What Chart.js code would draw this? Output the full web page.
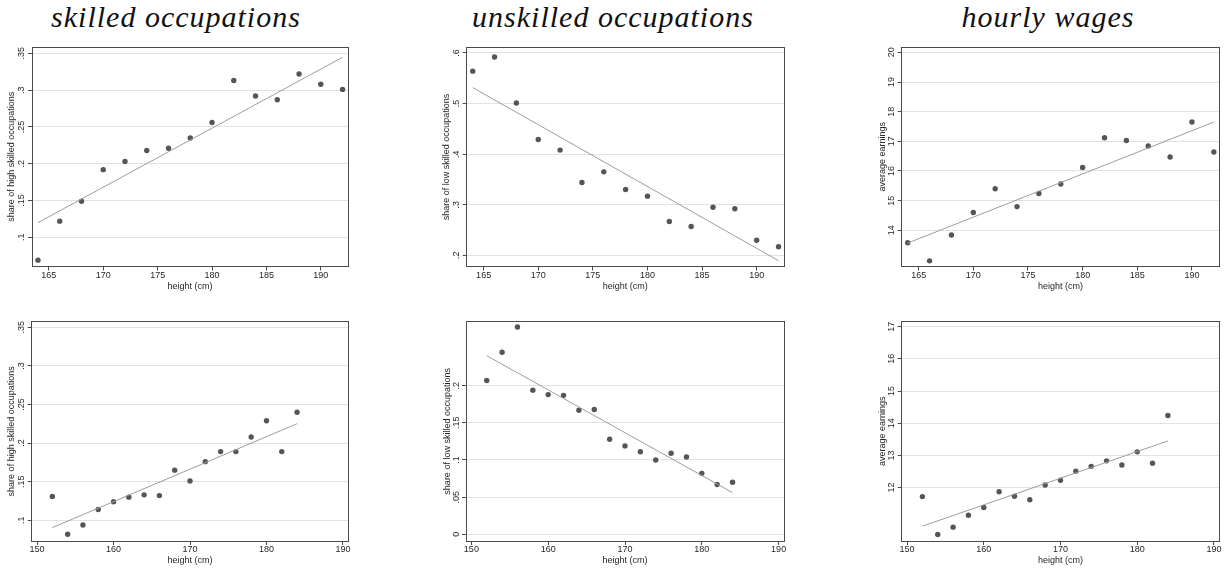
<!DOCTYPE html>
<html>

<head>
    <title>Height, occupations and wages</title>
    <script src="https://cdn.jsdelivr.net/npm/chart.js@4.4.0/dist/chart.umd.min.js"></script>
    <style>
        body { margin: 0; background: #fff; width: 1225px; height: 568px; position: relative; overflow: hidden; }
        .ttl { position: absolute; top: 2px; width: 400px; text-align: center; font: italic 30px "Liberation Serif"; letter-spacing: 1px; color: #111; line-height: 30px; }
        .box { position: absolute; }
    </style>
</head>

<body>
    <div class="ttl" style="left:-24px">skilled occupations</div>
    <div class="ttl" style="left:413px">unskilled occupations</div>
    <div class="ttl" style="left:848px">hourly wages</div>

    <div class="box" style="left:0;top:40px;width:400px;height:255px"><canvas id="tl"></canvas></div>
    <div class="box" style="left:410px;top:40px;width:400px;height:255px"><canvas id="tm"></canvas></div>
    <div class="box" style="left:830px;top:40px;width:395px;height:255px"><canvas id="tr"></canvas></div>
    <div class="box" style="left:0;top:315px;width:400px;height:253px"><canvas id="bl"></canvas></div>
    <div class="box" style="left:410px;top:315px;width:400px;height:253px"><canvas id="bm"></canvas></div>
    <div class="box" style="left:830px;top:315px;width:395px;height:253px"><canvas id="br"></canvas></div>

    <script type="text/javascript">
        // top row
        const heightsTop = [164, 166, 168, 170, 172, 174, 176, 178, 180, 182, 184, 186, 188, 190, 192];
        const skilledTop = [.069, .122, .149, .192, .203, .218, .221, .235, .256, .313, .292, .287, .322, .308, .301];
        const unskilledTop = [.564, .592, .501, .429, .408, .344, .365, .330, .317, .267, .257, .295, .292, .230, .217];
        const wagesTop = [13.58, 12.97, 13.84, 14.60, 15.40, 14.80, 15.24, 15.56, 16.12, 17.12, 17.03, 16.84, 16.47, 17.65, 16.64];

        // bottom row
        const heightsBottom = [152, 154, 156, 158, 160, 162, 164, 166, 168, 170, 172, 174, 176, 178, 180, 182, 184];
        const skilledBottom = [.131, .082, .094, .114, .124, .130, .133, .132, .165, .151, .176, .189, .189, .208, .229, .189, .240];
        const unskilledBottom = [.207, .245, .279, .194, .188, .187, .167, .168, .128, .119, .111, .100, .109, .104, .082, .067, .070];
        const wagesBottom = [11.72, 10.54, 10.77, 11.14, 11.38, 11.87, 11.73, 11.62, 12.08, 12.23, 12.51, 12.66, 12.83, 12.70, 13.11, 12.76, 14.24];

        // fitted lines (end points)
        const fitXTop = [164, 192];
        const fitSkilledTop = [.120, .3446];
        const fitUnskilledTop = [.5315, .1895];
        const fitWagesTop = [13.57, 17.65];
        const fitXBottom = [152, 184];
        const fitSkilledBottom = [.0905, .2252];
        const fitUnskilledBottom = [.2404, .0561];
        const fitWagesBottom = [10.80, 13.45];

        // ticks
        const xTicksTop = [165, 170, 175, 180, 185, 190];
        const xTicksBottom = [150, 160, 170, 180, 190];
        const yTicksSkilled = [.1, .15, .2, .25, .3, .35];
        const yTicksUnskilledTop = [.2, .3, .4, .5, .6];
        const yTicksUnskilledBottom = [0, .05, .1, .15, .2];
        const yTicksWagesTop = [14, 15, 16, 17, 18, 19, 20];
        const yTicksWagesBottom = [12, 13, 14, 15, 16, 17];

        const FRAME = '#4a4a4a', DOT = '#555555', FIT = '#9c9c9c', GRID = '#e2e2e2', TEXT = '#262626';
        Chart.defaults.font.family = 'Liberation Sans';
        Chart.defaults.font.size = 9;
        Chart.defaults.color = TEXT;

        const fmt = v => v === 0 ? '0' : String(v).replace(/^0\./, '.');

        const rowTop = { xMin: 163.45, xMax: 192.5, xTickPad: 0, xTitlePad: 2.9 };
        const rowBottom = { xMin: 149.3, xMax: 190.7, xTickPad: -1, xTitlePad: 1.9 };

        const panels = [
            { id: 'tl', row: rowTop, x: heightsTop, y: skilledTop, fx: fitXTop, fy: fitSkilledTop, xt: xTicksTop, yt: yTicksSkilled,
              yMin: .0604, yMax: .3586, yTitle: 'share of high skilled occupations', gaps: [7, 52, 28.5, 32], yTickPad: 0, yTitlePad: 6.6 },
            { id: 'tm', row: rowTop, x: heightsTop, y: unskilledTop, fx: fitXTop, fy: fitUnskilledTop, xt: xTicksTop, yt: yTicksUnskilledTop,
              yMin: .178, yMax: .6105, yTitle: 'share of low skilled occupations', gaps: [7, 26, 28.5, 56.7], yTickPad: 2.2, yTitlePad: 31.3 },
            { id: 'tr', row: rowTop, x: heightsTop, y: wagesTop, fx: fitXTop, fy: fitWagesTop, xt: xTicksTop, yt: yTicksWagesTop,
              yMin: 12.78, yMax: 20.18, yTitle: 'average earnings', gaps: [7, 5.7, 28.5, 71.7], yTickPad: 1, yTitlePad: 47.3 },
            { id: 'bl', row: rowBottom, x: heightsBottom, y: skilledBottom, fx: fitXBottom, fy: fitSkilledBottom, xt: xTicksBottom, yt: yTicksSkilled,
              yMin: .0732, yMax: .3573, yTitle: 'share of high skilled occupations', gaps: [6.7, 51.7, 27, 31.7], yTickPad: 0, yTitlePad: 6.6 },
            { id: 'bm', row: rowBottom, x: heightsBottom, y: unskilledBottom, fx: fitXBottom, fy: fitUnskilledBottom, xt: xTicksBottom, yt: yTicksUnskilledBottom,
              yMin: -.009, yMax: .2861, yTitle: 'share of low skilled occupations', gaps: [6.7, 26, 27, 56], yTickPad: -1, yTitlePad: 31.9 },
            { id: 'br', row: rowBottom, x: heightsBottom, y: wagesBottom, fx: fitXBottom, fy: fitWagesBottom, xt: xTicksBottom, yt: yTicksWagesBottom,
              yMin: 10.34, yMax: 17.155, yTitle: 'average earnings', gaps: [6.7, 5.7, 27, 71.7], yTickPad: 1, yTitlePad: 47.3 }
        ];

        function makePanel(p) {
            const [gTop, gRight, gBottom, gLeft] = p.gaps;
            new Chart(document.getElementById(p.id), {
                type: 'scatter',
                data: {
                    datasets: [{
                        data: p.fx.map((v, i) => ({ x: v, y: p.fy[i] })),
                        showLine: true,
                        borderColor: FIT,
                        borderWidth: 1,
                        pointRadius: 0
                    }, {
                        data: p.x.map((v, i) => ({ x: v, y: p.y[i] })),
                        backgroundColor: DOT,
                        borderWidth: 0,
                        pointRadius: 2.7
                    }]
                },
                options: {
                    responsive: true,
                    maintainAspectRatio: false,
                    animation: false,
                    events: [],
                    layout: { padding: 0 },
                    plugins: { legend: { display: false }, tooltip: { enabled: false } },
                    scales: {
                        x: {
                            type: 'linear', position: 'bottom', min: p.row.xMin, max: p.row.xMax,
                            afterBuildTicks: s => { s.ticks = p.xt.map(v => ({ value: v })); },
                            afterFit: s => { s.height = gBottom; },
                            grid: { drawOnChartArea: false, tickLength: 4, tickColor: FRAME },
                            border: { color: FRAME, width: 1 },
                            ticks: { padding: p.row.xTickPad, maxRotation: 0, autoSkip: false },
                            title: { display: true, text: 'height (cm)', padding: { top: 0, bottom: p.row.xTitlePad } }
                        },
                        y: {
                            type: 'linear', position: 'left', min: p.yMin, max: p.yMax,
                            afterBuildTicks: s => { s.ticks = p.yt.map(v => ({ value: v })); },
                            afterFit: s => { s.width = gLeft; },
                            grid: { color: GRID, tickColor: FRAME, tickLength: 4 },
                            border: { color: FRAME, width: 1 },
                            ticks: { minRotation: 90, maxRotation: 90, crossAlign: 'center', padding: p.yTickPad, autoSkip: false, callback: v => fmt(v) },
                            title: { display: true, text: p.yTitle, padding: { top: p.yTitlePad, bottom: 0 } }
                        },
                        x2: {
                            type: 'linear', position: 'top',
                            afterFit: s => { s.height = gTop; },
                            grid: { display: false }, ticks: { display: false },
                            border: { color: FRAME, width: 1 }
                        },
                        y2: {
                            type: 'linear', position: 'right',
                            afterFit: s => { s.width = gRight; },
                            grid: { display: false }, ticks: { display: false },
                            border: { color: FRAME, width: 1 }
                        }
                    }
                }
            });
        }

        panels.forEach(makePanel);
    </script>
</body>

</html>
